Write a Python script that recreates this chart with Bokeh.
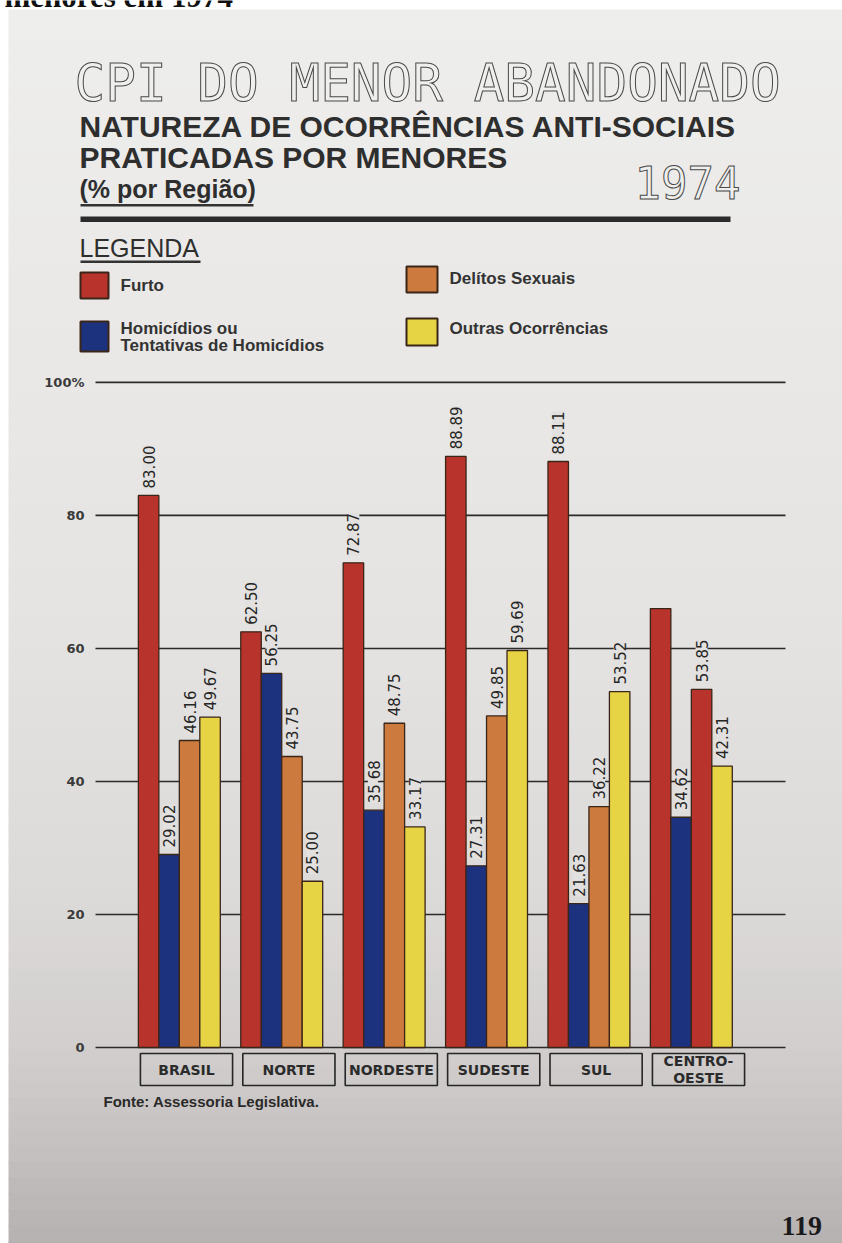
import numpy as np
from bokeh.plotting import figure
from bokeh.models import (ColumnDataSource, FactorRange, Range1d, LabelSet, Label,
                          BoxAnnotation)
from bokeh.transform import dodge
from bokeh.core.properties import value
from bokeh.embed import file_html
from bokeh.resources import INLINE

# ---------------- data ----------------
regions = ["BRASIL", "NORTE", "NORDESTE", "SUDESTE", "SUL", "CENTRO-OESTE"]
region_labels = ["BRASIL", "NORTE", "NORDESTE", "SUDESTE", "SUL", "CENTRO-\nOESTE"]
furto = [83.00, 62.50, 72.87, 88.89, 88.11, 66.0]        # last bar unlabeled in source
homicidios = [29.02, 56.25, 35.68, 27.31, 21.63, 34.62]
delitos = [46.16, 43.75, 48.75, 49.85, 36.22, 53.85]
outras = [49.67, 25.00, 33.17, 59.69, 53.52, 42.31]
y_ticks = [0, 20, 40, 60, 80, 100]
y_tick_labels = ["0", "20", "40", "60", "80", "100%"]

# ---------------- styles / page geometry ----------------
RED, BLUE, ORANGE, YELLOW = "#b8332b", "#1d327e", "#cc7a3d", "#e7d445"
INK = "#2a2a2a"
BAR_EDGE = "#3a2519"
W, H = 842, 1243
ZERO_Y = 1047          # page row of the 0 line
PXU = 6.651            # pixels per percentage point
SPACING = 102.4        # pixels per region
PAD = (W / SPACING - len(regions)) / 2
SHIFT = (186 - (PAD + 0.5) * SPACING) / SPACING   # centre first region under its box


def sx(x):
    return x


def sy(y):
    return H - y


p = figure(width=W, height=H, output_backend="svg", toolbar_location=None, title=None,
           x_range=FactorRange(*regions, range_padding=2 * PAD / len(regions)),
           y_range=Range1d(-(H - ZERO_Y) / PXU, ZERO_Y / PXU),
           x_axis_location=None, y_axis_location=None, min_border=0,
           outline_line_color=None, border_fill_color="white",
           background_fill_color="white")
p.xgrid.grid_line_color = None
p.ygrid.grid_line_color = None

# ---------------- paper (gradient bands) ----------------
stop_y = [9, 300, 600, 900, 1050, 1150, 1243]
stop_c = [(238, 238, 236), (234, 233, 231), (229, 228, 226), (220, 218, 216),
          (209, 206, 205), (196, 192, 191), (182, 177, 177)]


def paper(y):
    c = [int(round(np.interp(y, stop_y, [s[i] for s in stop_c]))) for i in range(3)]
    return "#%02x%02x%02x" % tuple(c)


def box(x0, x1, y0, y1, fill, line=None, lw=0, level="annotation"):
    p.add_layout(BoxAnnotation(left=sx(x0), right=sx(x1), top=sy(y0), bottom=sy(y1),
                               left_units="screen", right_units="screen",
                               top_units="screen", bottom_units="screen",
                               fill_color=fill, fill_alpha=1, level=level,
                               line_color=line if line else "black", line_width=lw,
                               line_alpha=1 if line else 0))


edges = list(range(9, H, 16)) + [H]
for y0, y1 in zip(edges[:-1], edges[1:]):
    box(8, W + 2, y0, y1 + 1, paper((y0 + y1) / 2), level="underlay")

# ---------------- grid lines (y ticks) ----------------
gsrc = ColumnDataSource(dict(y=y_ticks, first=[regions[0]] * len(y_ticks),
                             last=[regions[-1]] * len(y_ticks)))
x_start = 95 / SPACING - PAD - 0.5
x_end = 785 / SPACING - PAD - (len(regions) - 0.5)
p.segment(x0=dodge("first", x_start, range=p.x_range), y0="y",
          x1=dodge("last", x_end, range=p.x_range), y1="y",
          source=gsrc, line_color="#2b2b2b", line_width=1.6)

tsrc = ColumnDataSource(dict(y=y_ticks, t=y_tick_labels))
p.add_layout(LabelSet(x=84, x_units="screen", y="y", text="t", source=tsrc,
                      text_align="right", text_baseline="middle",
                      text_font=value("DejaVu Sans"), text_font_style="bold",
                      text_font_size="13px", text_color="#3a3a3a"))

# ---------------- bars ----------------
src = ColumnDataSource(dict(region=regions, furto=furto, homicidios=homicidios,
                            delitos=delitos, outras=outras))
src.data["delitos_color"] = [ORANGE] * 5 + [RED]   # printed red for Centro-Oeste
g = -0.07 + SHIFT
offsets = [-0.3 + g, -0.1 + g, 0.1 + g, 0.3 + g]
series = [("furto", RED), ("homicidios", BLUE), ("delitos", "delitos_color"), ("outras", YELLOW)]
for (col, color), off in zip(series, offsets):
    p.vbar(x=dodge("region", off, range=p.x_range), top=col, bottom=0, width=0.2,
           source=src, fill_color=color, line_color=BAR_EDGE, line_width=1.3)

# ---------------- value labels ----------------
label_sets = [
    (furto, [0, 1, 2, 3, 4]),
    (homicidios, [0, 1, 2, 3, 4, 5]),
    (delitos, [0, 1, 2, 3, 4, 5]),
    (outras, [0, 1, 2, 3, 4, 5]),
]
for (vals, idx), off in zip(label_sets, offsets):
    lsrc = ColumnDataSource(dict(region=[regions[i] for i in idx],
                                 v=[vals[i] for i in idx],
                                 t=["%.2f" % vals[i] for i in idx]))
    p.add_layout(LabelSet(x=dodge("region", off, range=p.x_range), y="v", text="t", source=lsrc,
                          angle=90, angle_units="deg", y_offset=7, text_align="left",
                          text_baseline="middle", text_font=value("DejaVu Sans"),
                          text_font_size="15px", text_color="#262626",
                          background_fill_color="#e3e1df", background_fill_alpha=1))

# ---------------- category boxes ----------------
BOX_Y = -(1069 - ZERO_Y) / PXU
csrc = ColumnDataSource(dict(region=regions, label=region_labels, y=[BOX_Y] * len(regions)))
p.rect(x=dodge("region", SHIFT, range=p.x_range), y="y", width=0.9, height=32,
       height_units="screen", source=csrc,
       fill_color=None, line_color="#262626", line_width=1.6)
p.text(x=dodge("region", SHIFT, range=p.x_range), y="y", text="label", source=csrc,
       text_align="center", text_baseline="middle", text_font=value("DejaVu Sans"),
       text_font_style="bold", text_font_size="14px", text_color="#2b2b2b",
       text_line_height=1.1)


# ---------------- header / legend (y = vertical middle of the text) ----------------
def lab(text, x, y, size, font="Liberation Sans", style="normal", color=INK,
        align="left", **kw):
    p.add_layout(Label(x=sx(x), y=sy(y), x_units="screen", y_units="screen", text=text,
                       text_font=font, text_font_size="%dpx" % size, text_font_style=style,
                       text_color=color, text_align=align, text_baseline="middle", **kw))


lab("menores em 1974", 4, -4, 31, font="Liberation Serif", style="bold", color="#111111")
lab("CPI DO MENOR ABANDONADO", 74, 83, 51, font="DejaVu Sans Mono",
    color="#efefed", text_outline_color="#4a4a4a")
lab("NATUREZA DE OCORRÊNCIAS ANTI-SOCIAIS", 79, 126, 30, style="bold", color="#2e2e2e")
lab("PRATICADAS POR MENORES", 79, 157, 30, style="bold", color="#2e2e2e")
lab("(% por Região)", 79, 188, 25, style="bold", color="#2e2e2e")
box(80, 253, 203.5, 206, "#333333")
lab("1974", 634, 182, 44, font="DejaVu Sans Mono", color="#efefed",
    text_outline_color="#4a4a4a")
box(80, 730, 216, 221.5, "#2b2b2b")
lab("LEGENDA", 79, 247, 25, color="#2e2e2e")
box(80, 200, 260, 262.5, "#333333")

box(80, 108, 272, 298, RED, BAR_EDGE, 2)
lab("Furto", 120, 285, 17, style="bold", color="#333333")
box(80, 108, 321, 351, BLUE, BAR_EDGE, 2)
lab("Homicídios ou", 120, 328, 17, style="bold", color="#333333")
lab("Tentativas de Homicídios", 120, 345, 17, style="bold", color="#333333")
box(406, 437, 266, 292, ORANGE, BAR_EDGE, 2)
lab("Delítos Sexuais", 449, 278, 17, style="bold", color="#333333")
box(406, 437, 318, 345, YELLOW, BAR_EDGE, 2)
lab("Outras Ocorrências", 449, 328, 17, style="bold", color="#333333")

lab("Fonte: Assessoria Legislativa.", 103, 1101, 15, style="bold", color="#2a2a2a")
lab("119", 781, 1225, 28, font="Liberation Serif", style="bold", color="#1a1a1a")

open("out.html", "w").write(file_html(p, INLINE))
